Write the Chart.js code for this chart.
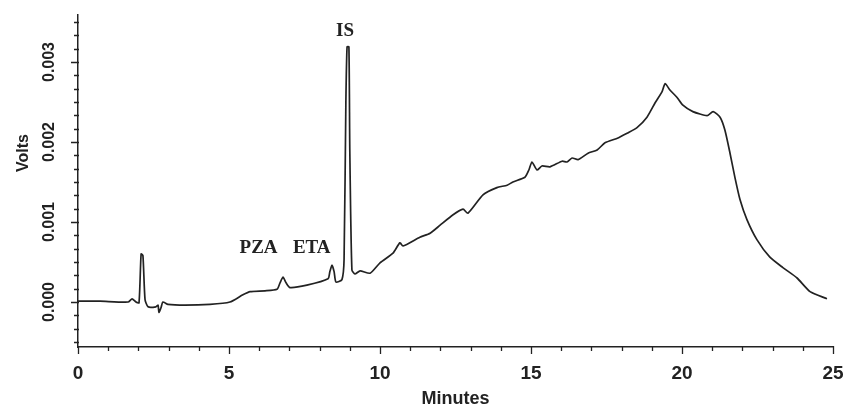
<!DOCTYPE html>
<html>
<head>
<meta charset="utf-8">
<script src="https://cdn.jsdelivr.net/npm/chart.js@4.4.1/dist/chart.umd.min.js"></script>
<style>
  html, body { margin: 0; padding: 0; background: #fff; }
  #wrap { width: 847px; height: 410px; position: relative; }
</style>
</head>
<body>
<div id="wrap"><canvas id="chromatogram"></canvas></div>
<script>
// retention time (min) and detector signal (V)
const minutes = [
  0, 0.73, 1.66, 1.79, 1.92, 2.02, 2.09, 2.15, 2.22, 2.32, 2.58, 2.65, 2.68, 2.75, 2.81, 2.98,
  3.54, 4.37, 5.03, 5.46, 5.70, 6.19, 6.59, 6.69, 6.79, 6.89, 7.02, 7.58, 8.28, 8.34, 8.41, 8.48,
  8.54, 8.74, 8.81, 8.87, 8.91, 8.97, 9.00, 9.07, 9.17, 9.34, 9.67, 10.0, 10.43, 10.66, 10.76,
  11.32, 11.66, 11.99, 12.42, 12.75, 12.91, 13.41, 13.87, 14.21, 14.40, 14.80, 14.93, 15.03,
  15.20, 15.36, 15.63, 16.03, 16.19, 16.36, 16.56, 16.89, 17.19, 17.45, 17.88, 18.18, 18.51,
  18.84, 19.11, 19.34, 19.44, 19.60, 19.83, 20.03, 20.36, 20.83, 21.03, 21.26, 21.42, 21.59,
  21.75, 21.92, 22.15, 22.48, 22.91, 23.34, 23.81, 24.24, 24.80
];
const volts = [
  0.00001, 0.00001, 0, 0.00004, 0, -0.00001, 0.0006, 0.00058, 0.00003, -0.00006, -0.00006, -0.00004, -0.00013, -0.00007, 0, -0.00003,
  -0.00004, -0.00003, 0, 0.00009, 0.00013, 0.00014, 0.00016, 0.00024, 0.00031, 0.00024, 0.00018, 0.00021, 0.00029, 0.00038, 0.00046, 0.00038,
  0.00025, 0.00028, 0.00053, 0.0025, 0.00319, 0.00319, 0.0019, 0.0004, 0.00035, 0.00039, 0.00036, 0.00049, 0.00061, 0.00074, 0.0007,
  0.00081, 0.00086, 0.00096, 0.00109, 0.00116, 0.00111, 0.00134, 0.00143, 0.00146, 0.0015, 0.00156, 0.00165, 0.00175,
  0.00165, 0.0017, 0.00169, 0.00176, 0.00175, 0.0018, 0.00178, 0.00186, 0.0019, 0.00199, 0.00205, 0.00211, 0.00218,
  0.00231, 0.00249, 0.00263, 0.00273, 0.00265, 0.00256, 0.00246, 0.00238, 0.00233, 0.00238, 0.00231, 0.00215, 0.00186,
  0.00156, 0.00128, 0.00103, 0.00078, 0.00056, 0.00043, 0.0003, 0.00013, 0.00004
];

// y axis labels
const yTickValues = [0, 0.001, 0.002, 0.003];
const yTickLabels = ['0.000', '0.001', '0.002', '0.003'];

// peak names and where they sit (minutes, volts)
const peakNames = ['PZA', 'ETA', 'IS'];
const peakTimes = [5.98, 7.74, 8.84];
const peakLevels = [0.000675, 0.000675, 0.00339];

const INK = '#222';

// tick marks, y labels, y title and peak names are drawn by hand
const axisExtras = {
  id: 'axisExtras',
  afterDraw(chart) {
    const ctx = chart.ctx;
    const xs = chart.scales.x, ys = chart.scales.y;
    const area = chart.chartArea;
    ctx.save();
    ctx.strokeStyle = INK;
    ctx.lineWidth = 1.3;
    ctx.beginPath();
    xs.ticks.forEach(t => {
      const px = Math.round(xs.getPixelForValue(t.value)) + 0.5;
      const len = t.value % 5 === 0 ? 7 : 4; // longer mark every 5 min
      ctx.moveTo(px, area.bottom - 1);
      ctx.lineTo(px, area.bottom + len);
    });
    ys.ticks.forEach(t => {
      const py = Math.round(ys.getPixelForValue(t.value)) + 0.5;
      const len = t.major ? 7 : 4;
      ctx.moveTo(area.left + 1, py);
      ctx.lineTo(area.left - len, py);
    });
    ctx.stroke();

    // rotated y tick labels
    ctx.fillStyle = INK;
    ctx.font = 'bold 16px "Liberation Sans", Arial, sans-serif';
    ctx.textAlign = 'center';
    ctx.textBaseline = 'middle';
    yTickValues.forEach((v, i) => {
      ctx.save();
      ctx.translate(50, ys.getPixelForValue(v));
      ctx.rotate(-Math.PI / 2);
      ctx.fillText(yTickLabels[i], 0, 0);
      ctx.restore();
    });

    // y title
    ctx.save();
    ctx.translate(24, 153);
    ctx.rotate(-Math.PI / 2);
    ctx.fillText('Volts', 0, 0);
    ctx.restore();

    // peak names
    ctx.font = 'bold 19px "Liberation Serif", "Times New Roman", serif';
    peakNames.forEach((name, i) => {
      ctx.fillText(name, xs.getPixelForValue(peakTimes[i]), ys.getPixelForValue(peakLevels[i]));
    });
    ctx.restore();
  }
};

const ctx = document.getElementById('chromatogram').getContext('2d');
new Chart(ctx, {
  type: 'line',
  data: {
    datasets: [{
      data: minutes.map((m, i) => ({ x: m, y: volts[i] })),
      borderColor: INK,
      borderWidth: 1.7,
      pointRadius: 0,
      tension: 0.2,
      fill: false
    }]
  },
  options: {
    responsive: true,
    maintainAspectRatio: false,
    devicePixelRatio: 1,
    animation: false,
    layout: { padding: { top: 15, right: 14, left: 0, bottom: 0 } },
    plugins: { legend: { display: false }, tooltip: { enabled: false } },
    scales: {
      x: {
        type: 'linear',
        min: 0,
        max: 25,
        grid: { display: false, drawTicks: false },
        border: { display: true, color: INK, width: 1.5 },
        ticks: {
          stepSize: 1,
          autoSkip: false,
          maxRotation: 0,
          padding: 15,
          color: INK,
          font: { family: '"Liberation Sans", Arial, sans-serif', size: 19, weight: 'bold' },
          callback: v => (v % 5 === 0 ? String(v) : '')
        },
        title: {
          display: true,
          text: 'Minutes',
          color: INK,
          padding: 0,
          font: { family: '"Liberation Sans", Arial, sans-serif', size: 18, weight: 'bold' }
        },
        // fixed band height; drop the label overflow padding so the axis ends at 25
        afterFit: s => { s.height = 63; s.paddingLeft = 0; s.paddingRight = 0; }
      },
      y: {
        min: -0.0005625,
        max: 0.0035875,
        grid: { display: false, drawTicks: false },
        border: { display: true, color: INK, width: 1.5 },
        ticks: { display: false },
        // minor marks every 1/6 of 0.001, as on the original axis
        afterBuildTicks: s => {
          const list = [];
          for (let k = -3; k <= 21; k++) list.push({ value: k / 6000, major: k % 6 === 0 });
          s.ticks = list;
        },
        afterFit: s => { s.width = 78; }
      }
    }
  },
  plugins: [axisExtras]
});
</script>
</body>
</html>
